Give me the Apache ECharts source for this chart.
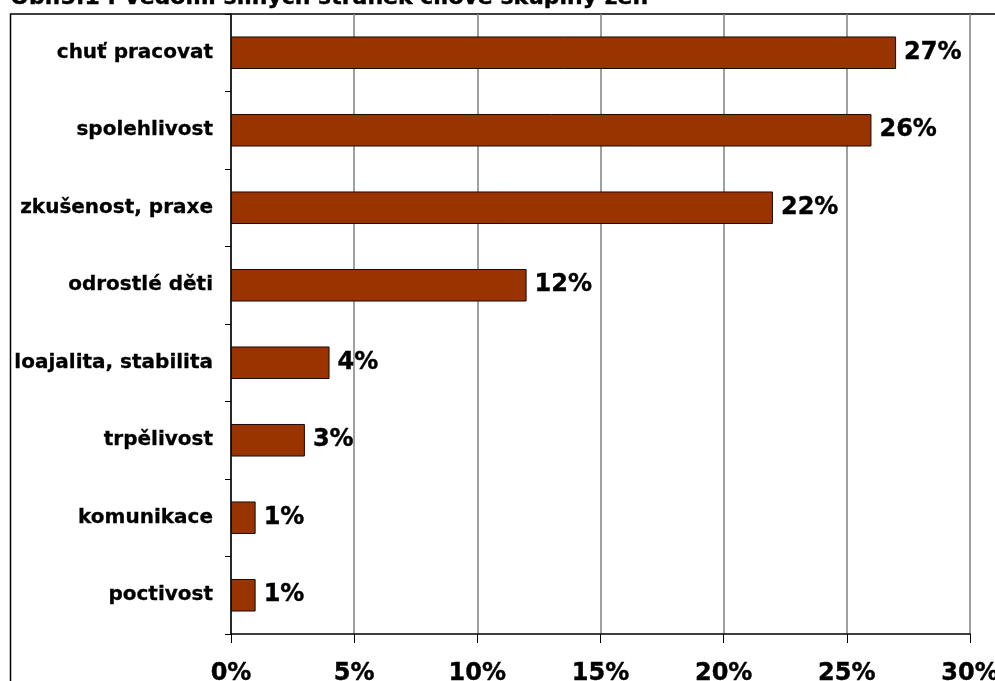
<!DOCTYPE html>
<html><head><meta charset="utf-8">
<script src="https://cdn.jsdelivr.net/npm/echarts@6/dist/echarts.min.js"></script>
<style>html,body{margin:0;padding:0;background:#fff}#c{width:995px;height:681px}</style>
</head><body><div id="c"></div>
<script>
const categories = ["poctivost","komunikace","trpělivost","loajalita, stabilita","odrostlé děti","zkušenost, praxe","spolehlivost","chuť pracovat"];
const values = [1,1,3,4,12,22,26,27];
const xTicks = [0,5,10,15,20,25,30];
const titleText = "Obr.3.1 : Vědomí silných stránek cílové skupiny žen";

const FONT = "DejaVu Sans";
const chart = echarts.init(document.getElementById('c'));
chart.setOption({
  animation:false,
  backgroundColor:'#fff',
  graphic:[
    {type:'text', left:10, top:-13, style:{text:titleText, font:'bold 22px "DejaVu Sans"', fill:'#000', stroke:'#000', lineWidth:0.4}},
    {type:'rect', shape:{x:10.5,y:14,width:1000,height:700}, style:{fill:null, stroke:'#000', lineWidth:1.5}, silent:true}
  ],
  grid:{left:231, right:25, top:14, bottom:47, containLabel:false, outerBoundsMode:'none'},
  xAxis:{
    type:'value', min:xTicks[0], max:xTicks[xTicks.length-1], interval:xTicks[1]-xTicks[0],
    axisLine:{show:true, lineStyle:{color:'#000', width:1.5}},
    axisTick:{show:true, length:9, lineStyle:{color:'#000'}},
    splitLine:{show:true, lineStyle:{color:'#808080', width:1.5}},
    axisLabel:{formatter:v=>v+'%', fontFamily:FONT, fontWeight:'bold', fontSize:24, color:'#000', margin:28, textBorderColor:'#000', textBorderWidth:0.4, hideOverlap:false}
  },
  yAxis:{
    type:'category', data:categories,
    axisLine:{show:true, lineStyle:{color:'#000', width:1.5}},
    axisTick:{show:true, length:6, lineStyle:{color:'#000'}},
    axisLabel:{fontFamily:FONT, fontWeight:'bold', fontSize:20, color:'#000', margin:18, textBorderColor:'#000', textBorderWidth:0.3}
  },
  series:[{
    type:'bar', data:values, barWidth:'42%',
    itemStyle:{color:'#993300', borderColor:'#1a0a00', borderWidth:1},
    label:{show:true, position:'right', distance:8, formatter:p=>p.value+'%', fontFamily:FONT, fontWeight:'bold', fontSize:24, color:'#000', textBorderColor:'#000', textBorderWidth:0.4}
  }]
});
</script></body></html>
